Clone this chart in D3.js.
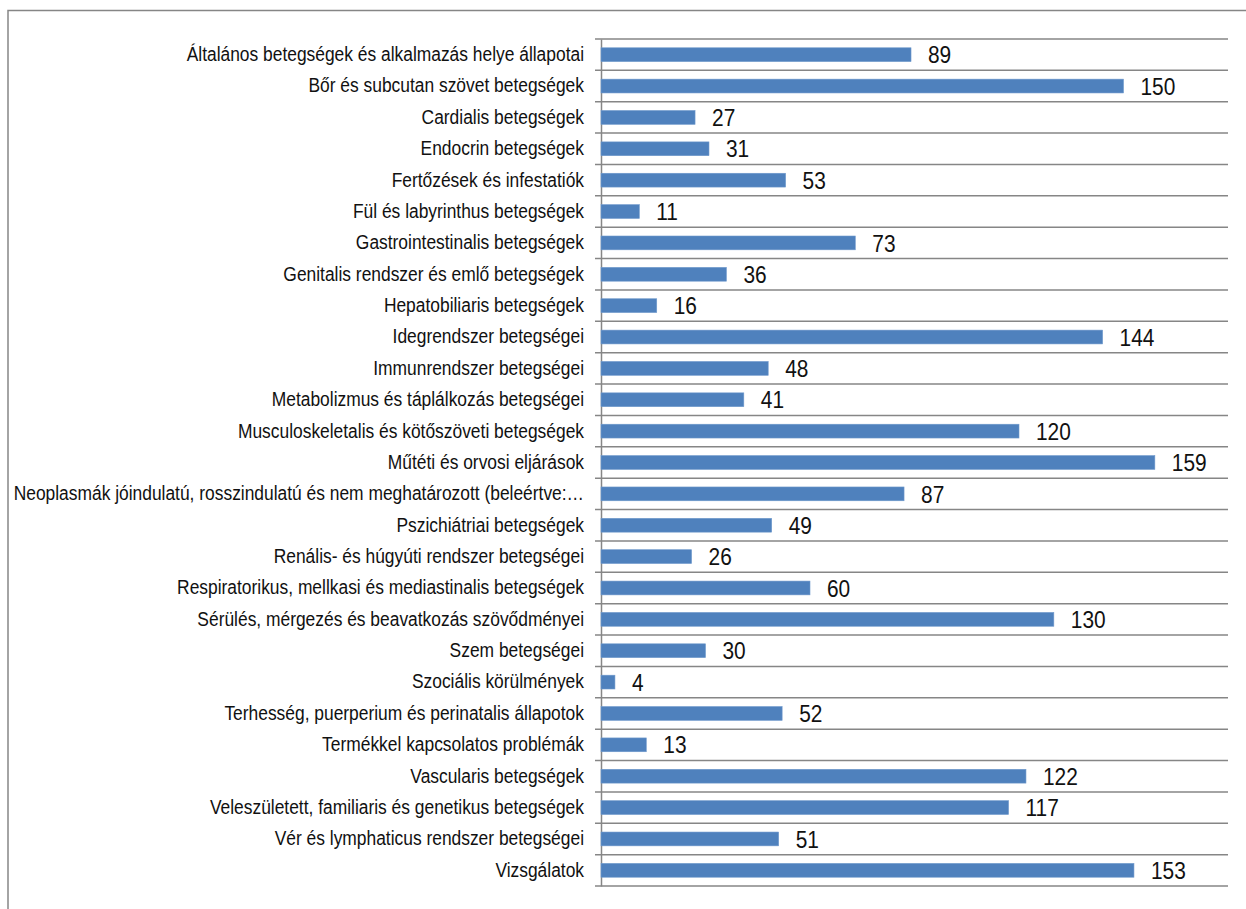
<!DOCTYPE html>
<html>
<head>
<meta charset="utf-8">
<script src="https://cdn.jsdelivr.net/npm/d3@7"></script>
<style>
  body { margin: 0; background: #fff; }
  svg text { font-family: "Liberation Sans Narrow", "Arial Narrow", "Liberation Sans", Arial, sans-serif; }
</style>
</head>
<body>
<div id="chart"></div>
<script>
// categories (top to bottom) and counts
const categories = [
  "Általános betegségek és alkalmazás helye állapotai",
  "Bőr és subcutan szövet betegségek",
  "Cardialis betegségek",
  "Endocrin betegségek",
  "Fertőzések és infestatiók",
  "Fül és labyrinthus betegségek",
  "Gastrointestinalis betegségek",
  "Genitalis rendszer és emlő betegségek",
  "Hepatobiliaris betegségek",
  "Idegrendszer betegségei",
  "Immunrendszer betegségei",
  "Metabolizmus és táplálkozás betegségei",
  "Musculoskeletalis és kötőszöveti betegségek",
  "Műtéti és orvosi eljárások",
  "Neoplasmák jóindulatú, rosszindulatú és nem meghatározott (beleértve:…",
  "Pszichiátriai betegségek",
  "Renális- és húgyúti rendszer betegségei",
  "Respiratorikus, mellkasi és mediastinalis betegségek",
  "Sérülés, mérgezés és beavatkozás szövődményei",
  "Szem betegségei",
  "Szociális körülmények",
  "Terhesség, puerperium és perinatalis állapotok",
  "Termékkel kapcsolatos problémák",
  "Vascularis betegségek",
  "Veleszületett, familiaris és genetikus betegségek",
  "Vér és lymphaticus rendszer betegségei",
  "Vizsgálatok"
];
const values = [89, 150, 27, 31, 53, 11, 73, 36, 16, 144, 48, 41, 120, 159, 87, 49, 26, 60, 130, 30, 4, 52, 13, 122, 117, 51, 153];
const xMax = 180;

const width = 1246, height = 909;
const margin = { t: 39, r: 18, b: 23, l: 601 };
const w = width - margin.l - margin.r;
const h = height - margin.t - margin.b;
const squeeze = 0.87; // no narrow font installed, so squeeze regular glyphs

const svg = d3.select('#chart').append('svg')
  .attr('width', width)
  .attr('height', height);

// outer frame (runs off the right and bottom edges)
svg.append('rect')
  .attr('x', 8).attr('y', 10.5)
  .attr('width', width).attr('height', height)
  .attr('fill', 'none')
  .attr('stroke', '#868686')
  .attr('stroke-width', 1.5);

const plot = svg.append('g')
  .attr('class', 'plot')
  .attr('transform', `translate(${margin.l},${margin.t})`);

const scaleX = d3.scaleLinear().domain([0, xMax]).range([0, w]);
const scaleY = d3.scaleBand().domain(categories).range([0, h]).paddingInner(0.56).paddingOuter(0.28);

// horizontal gridlines at category boundaries (tick marks merged in)
const bounds = d3.range(categories.length + 1).map(i => i * (h / categories.length));
plot.selectAll('.grid')
  .data(bounds)
  .enter().append('line')
  .attr('class', 'grid')
  .attr('x1', -6).attr('x2', w)
  .attr('y1', d => d).attr('y2', d => d)
  .attr('stroke', '#868686')
  .attr('stroke-width', 1.5);

// category axis
const axisY = d3.axisLeft(scaleY).tickSize(0).tickPadding(17);
const axisYNode = plot.append('g').attr('class', 'axis-y').call(axisY);
axisYNode.select('.domain')
  .attr('stroke', '#868686')
  .attr('stroke-width', 1.5);
axisYNode.selectAll('text')
  .style('font-size', '20px')
  .attr('fill', '#111')
  .attr('x', -17 / squeeze)
  .attr('transform', `scale(${squeeze},1)`);

// bars
plot.selectAll('.bar')
  .data(values)
  .enter().append('rect')
  .attr('class', 'bar')
  .attr('x', 0)
  .attr('y', (d, i) => scaleY(categories[i]))
  .attr('width', d => scaleX(d))
  .attr('height', scaleY.bandwidth())
  .attr('fill', '#4f81bd')
  .attr('stroke', '#6f99cc')
  .attr('stroke-width', 0.6);

// value labels
plot.selectAll('.val')
  .data(values)
  .enter().append('text')
  .attr('class', 'val')
  .attr('transform', (d, i) =>
    `translate(${scaleX(d) + 17},${scaleY(categories[i]) + scaleY.bandwidth() / 2}) scale(${squeeze},1)`)
  .attr('dy', '0.36em')
  .style('font-size', '24px')
  .attr('fill', '#111')
  .text(d => d);
</script>
</body>
</html>
